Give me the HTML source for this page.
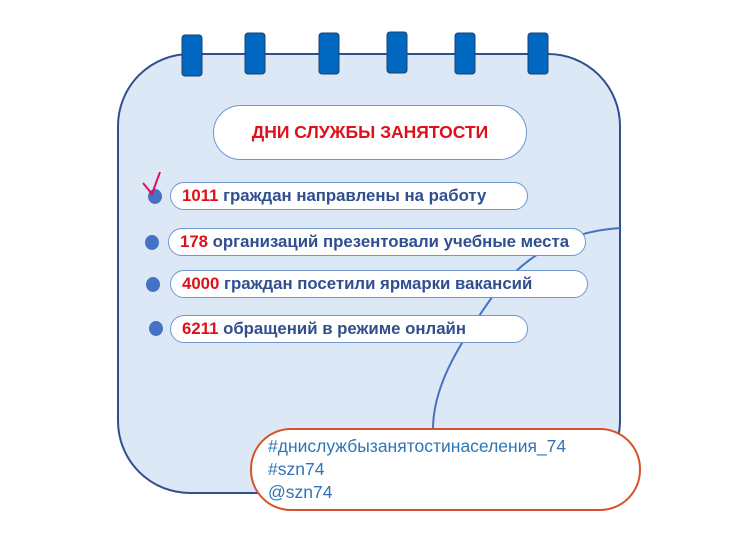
<!DOCTYPE html>
<html><head><meta charset="utf-8"><style>
body{margin:0;width:742px;height:553px;background:#fff;position:relative;overflow:hidden;font-family:"Liberation Sans","DejaVu Sans",sans-serif}
.a{position:absolute}
.pill{position:absolute;background:#fff;border:1px solid #6f97d0;border-radius:16px;box-sizing:border-box;font-weight:bold;font-size:16.8px;color:#2f4f8f;padding-left:11px;line-height:26px;white-space:nowrap}
.pill b{color:#e0101a}
.dot{position:absolute;width:14px;height:15px;border-radius:50%;background:#4472c4}
</style></head><body>
<svg class="a" style="left:0;top:0" width="742" height="553">
<rect x="118" y="54" width="502" height="439" rx="72" fill="#dde8f6" stroke="#2f4f8f" stroke-width="2"/>
<path d="M620 228 C560 232 520 260 490 300 C455 350 432 390 433 432" fill="none" stroke="#4472c4" stroke-width="2"/>
<g fill="#0068c0" stroke="#1d3f6f" stroke-width="1">
<rect x="182" y="35" width="20" height="41" rx="3"/>
<rect x="245" y="33" width="20" height="41" rx="3"/>
<rect x="319" y="33" width="20" height="41" rx="3"/>
<rect x="387" y="32" width="20" height="41" rx="3"/>
<rect x="455" y="33" width="20" height="41" rx="3"/>
<rect x="528" y="33" width="20" height="41" rx="3"/>
</g>
<rect x="251" y="429" width="389" height="81" rx="40" fill="#fff" stroke="#d9512c" stroke-width="2"/>
</svg>
<div class="a" style="left:213px;top:105px;width:314px;height:55px;background:#fff;border:1px solid #6f97d0;border-radius:28px;box-sizing:border-box;text-align:center;line-height:53px;color:#e0101a;font-weight:bold;font-size:17.5px">ДНИ СЛУЖБЫ ЗАНЯТОСТИ</div>
<div class="dot" style="left:148px;top:189px"></div>
<div class="dot" style="left:145px;top:235px"></div>
<div class="dot" style="left:146px;top:277px"></div>
<div class="dot" style="left:149px;top:321px"></div>
<svg class="a" style="left:0;top:0" width="742" height="553"><path d="M143 183 L152 194 L160 172" fill="none" stroke="#e0105a" stroke-width="2"/></svg>
<div class="pill" style="left:170px;top:182px;width:358px;height:28px"><b>1011</b> граждан направлены на работу</div>
<div class="pill" style="left:168px;top:228px;width:418px;height:28px"><b>178</b> организаций презентовали учебные места</div>
<div class="pill" style="left:170px;top:270px;width:418px;height:28px"><b>4000</b> граждан посетили ярмарки вакансий</div>
<div class="pill" style="left:170px;top:315px;width:358px;height:28px"><b>6211</b> обращений в режиме онлайн</div>
<div class="a" style="left:268px;top:435px;color:#2e75b6;font-size:17.5px;line-height:23px">#днислужбызанятостинаселения_74<br>#szn74<br>@szn74</div>
</body></html>
